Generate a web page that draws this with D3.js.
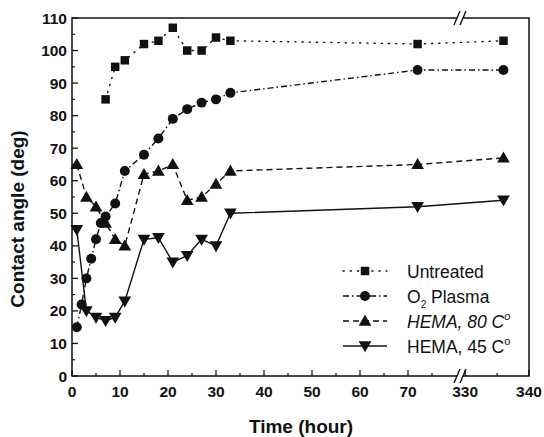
<!DOCTYPE html>
<html>
<head>
<meta charset="utf-8">
<script src="https://cdn.jsdelivr.net/npm/d3@7"></script>
<style>
  body { margin: 0; background: #fff; }
  svg { font-family: "Liberation Sans", Arial, sans-serif; }
</style>
</head>
<body>
<svg id="chart" width="544" height="437"></svg>
<script>
// the last two points of each series sit past the axis break
const untreatedHours = [7, 9, 11, 15, 18, 21, 24, 27, 30, 33, 72, 336]
const untreated = [85, 95, 97, 102, 103, 107, 100, 100, 104, 103, 102, 103]

const plasmaHours = [1, 2, 3, 4, 5, 6, 7, 9, 11, 15, 18, 21, 24, 27, 30, 33, 72, 336]
const plasma = [15, 22, 30, 36, 42, 47, 49, 53, 63, 68, 73, 79, 82, 84, 85, 87, 94, 94]

const hema80Hours = [1, 3, 5, 7, 9, 11, 15, 18, 21, 24, 27, 30, 33, 72, 336]
const hema80 = [65, 55, 52, 47, 42, 40, 62, 63, 65, 54, 55, 59, 63, 65, 67]

const hema45Hours = [1, 3, 5, 7, 9, 11, 15, 18, 21, 24, 27, 30, 33, 72, 336]
const hema45 = [45, 20, 18, 17, 18, 23, 42, 42.5, 35, 37, 42, 40, 50, 52, 54]

const xTicksLeft = [0, 10, 20, 30, 40, 50, 60, 70]
const xTicksRight = [330, 340]
const yTicks = [0, 10, 20, 30, 40, 50, 60, 70, 80, 90, 100, 110]

const svg = d3.select("#chart")

const plotL = 72, plotR = 529, plotT = 18, plotB = 376

// broken x axis: two linear pieces
const xLeft = d3.scaleLinear().domain([0, 80]).range([plotL, 456])
const xRight = d3.scaleLinear().domain([329.5, 340]).range([462, plotR])
const x = v => v < 200 ? xLeft(v) : xRight(v)
const y = d3.scaleLinear().domain([0, 110]).range([plotB, plotT])

const ink = "#111"

// frame
svg.append("rect")
    .attr("x", plotL).attr("y", plotT)
    .attr("width", plotR - plotL).attr("height", plotB - plotT)
    .attr("fill", "none").attr("stroke", ink).attr("stroke-width", 1.5)

// y ticks (inward)
const yMinor = d3.range(5, 110, 10)
svg.selectAll(".ytick").data(yTicks).join("line")
    .attr("x1", plotL).attr("x2", plotL + 6)
    .attr("y1", d => y(d)).attr("y2", d => y(d))
    .attr("stroke", ink).attr("stroke-width", 1.3)
svg.selectAll(".yminor").data(yMinor).join("line")
    .attr("x1", plotL).attr("x2", plotL + 3)
    .attr("y1", d => y(d)).attr("y2", d => y(d))
    .attr("stroke", ink).attr("stroke-width", 1.2)
svg.selectAll(".ylab").data(yTicks).join("text")
    .attr("x", 67).attr("y", d => y(d) + 5.5)
    .attr("text-anchor", "end")
    .attr("font-size", 15.5).attr("font-weight", "bold")
    .attr("fill", ink)
    .text(d => d)

// x ticks (inward)
const xMajor = xTicksLeft.concat(xTicksRight)
const xMinor = d3.range(5, 80, 10).concat([335])
svg.selectAll(".xtick").data(xMajor).join("line")
    .attr("x1", d => x(d)).attr("x2", d => x(d))
    .attr("y1", plotB).attr("y2", plotB - 6)
    .attr("stroke", ink).attr("stroke-width", 1.3)
svg.selectAll(".xminor").data(xMinor).join("line")
    .attr("x1", d => x(d)).attr("x2", d => x(d))
    .attr("y1", plotB).attr("y2", plotB - 3)
    .attr("stroke", ink).attr("stroke-width", 1.2)
svg.selectAll(".xlab").data(xMajor).join("text")
    .attr("x", d => x(d)).attr("y", 397)
    .attr("text-anchor", "middle")
    .attr("font-size", 15.5).attr("font-weight", "bold")
    .attr("fill", ink)
    .text(d => d)

// break marks on top and bottom axis
;[plotT, plotB].forEach(yy => {
    svg.append("rect")
        .attr("x", 457).attr("y", yy - 2).attr("width", 6).attr("height", 4)
        .attr("fill", "#fff")
    ;[-3, 3].forEach(off => {
        svg.append("line")
            .attr("x1", 460 + off - 3).attr("y1", yy + 7)
            .attr("x2", 460 + off + 3).attr("y2", yy - 7)
            .attr("stroke", ink).attr("stroke-width", 1.4)
    })
})

// axis titles
svg.append("text")
    .attr("x", 301).attr("y", 433)
    .attr("text-anchor", "middle")
    .attr("font-size", 19).attr("font-weight", "bold")
    .attr("fill", ink)
    .text("Time (hour)")
svg.append("text")
    .attr("transform", "translate(24,219) rotate(-90)")
    .attr("text-anchor", "middle")
    .attr("font-size", 19).attr("font-weight", "bold")
    .attr("fill", ink)
    .text("Contact angle (deg)")

const series = [
    { hrs: untreatedHours, vals: untreated, dash: "1.2,6", shape: d3.symbolSquare, size: 72, rot: 0 },
    { hrs: plasmaHours, vals: plasma, dash: "6,3,1.5,3", shape: d3.symbolCircle, size: 78, rot: 0 },
    { hrs: hema80Hours, vals: hema80, dash: "6,4", shape: d3.symbolTriangle, size: 70, rot: 0 },
    { hrs: hema45Hours, vals: hema45, dash: null, shape: d3.symbolTriangle, size: 70, rot: 180 }
]

const line = d3.line().x(d => x(d[0])).y(d => y(d[1]))
const nudge = s => s.shape === d3.symbolTriangle ? (s.rot ? -1 : 1) : 0

series.forEach((s, i) => {
    const pts = s.hrs.map((h, j) => [h, s.vals[j]])
    svg.append("path")
        .attr("d", line(pts))
        .attr("fill", "none")
        .attr("stroke", ink)
        .attr("stroke-width", 1.4)
        .attr("stroke-linecap", i === 0 ? "round" : "butt")
        .attr("stroke-dasharray", s.dash)
    svg.selectAll(null).data(pts).join("path")
        .attr("d", d3.symbol().type(s.shape).size(s.size))
        .attr("transform", d => `translate(${x(d[0])},${y(d[1]) + nudge(s)}) rotate(${s.rot})`)
        .attr("fill", ink)
})

// legend
const legendY = [271, 296, 321, 346]
series.forEach((s, i) => {
    const ly = legendY[i]
    svg.append("line")
        .attr("x1", 343).attr("x2", 387)
        .attr("y1", ly).attr("y2", ly)
        .attr("stroke", ink).attr("stroke-width", 1.4)
        .attr("stroke-linecap", i === 0 ? "round" : "butt")
        .attr("stroke-dasharray", s.dash)
    svg.append("path")
        .attr("d", d3.symbol().type(s.shape).size(s.size)())
        .attr("transform", `translate(365,${ly + nudge(s)}) rotate(${s.rot})`)
        .attr("fill", ink)
})

const legText = ly => svg.append("text")
    .attr("x", 407).attr("y", ly + 7)
    .attr("font-size", 17.5).attr("fill", ink)

legText(legendY[0]).text("Untreated")
const t2 = legText(legendY[1])
t2.append("tspan").text("O")
t2.append("tspan").attr("font-size", 10).attr("dy", 5).text("2")
t2.append("tspan").attr("dy", -5).text(" Plasma")
const t3 = legText(legendY[2]).attr("font-style", "italic")
t3.append("tspan").text("HEMA, 80 C")
t3.append("tspan").attr("font-size", 11).attr("dy", -8).text("o")
const t4 = legText(legendY[3])
t4.append("tspan").text("HEMA, 45 C")
t4.append("tspan").attr("font-size", 11).attr("dy", -8).text("o")
</script>
</body>
</html>
